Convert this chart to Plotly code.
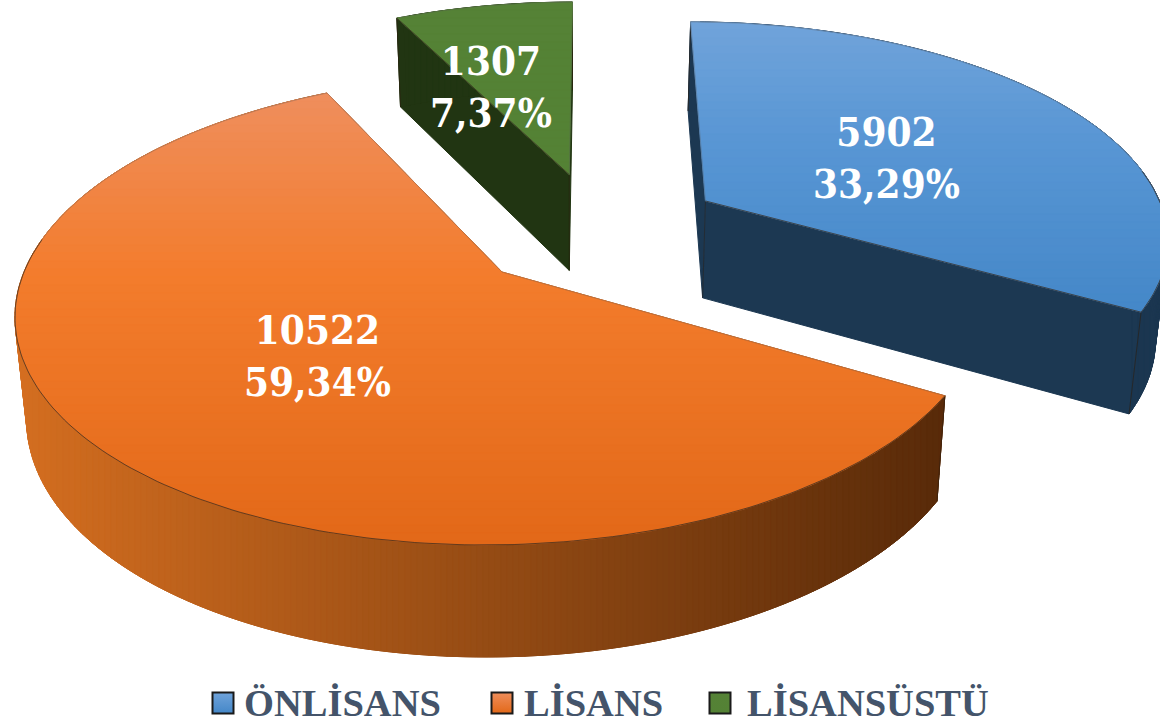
import math
import plotly.graph_objects as go

categories = ["ÖNLİSANS", "LİSANS", "LİSANSÜSTÜ"]
values = [5902, 10522, 1307]

# view of the tilted pie, in page pixels
W, H = 1160, 727
CX, CY = 502, 272
A, B, K = 478, 228.9, 0.1615
SHEAR = -0.065
EXPLODE = 0.275
TOP_COL = [[(112, 163, 218), (88, 150, 212), (68, 135, 200)],
           [(239, 142, 92), (243, 124, 44), (226, 104, 24)],
           [(85, 130, 54), (84, 130, 53), (84, 130, 53)]]
WALL_COL = [((29, 57, 84), (27, 54, 80)),
            ((212, 110, 32), (88, 42, 9)),
            ((33, 53, 18), (33, 53, 18))]
LABEL_POS = [(886, 157), (317, 355), (491, 86)]
LEG_BOX = [223, 502, 720]
LEG_TXT = [242, 522, 745]
LEG_Y = 703
DARK = "rgba(45,30,15,0.75)"
SOFT = "rgba(90,90,90,0.45)"


def project(u, v):
    w = 1 + K * v
    y = CY - B * v / w
    x = CX + A * u / w + SHEAR * (y - CY)
    return x, y


def drop(x, y):
    return x - (x - 570) * 0.021, y + 88 + 0.044 * y


def mix(c0, c1, f):
    f = max(0.0, min(1.0, f))
    return "rgb(%d,%d,%d)" % tuple(round(a + (b - a) * f) for a, b in zip(c0, c1))


def mix3(cs, f):
    return mix(cs[0], cs[1], f / 0.4) if f < 0.4 else mix(cs[1], cs[2], (f - 0.4) / 0.6)


def clip(poly, lo, hi, axis):
    def half(pts, keep, cross):
        out = []
        for i, p in enumerate(pts):
            q = pts[(i + 1) % len(pts)]
            if keep(p):
                out.append(p)
            if keep(p) != keep(q):
                out.append(cross(p, q))
        return out

    def at(level):
        def cross(p, q):
            f = (level - p[axis]) / (q[axis] - p[axis])
            r = [p[0] + (q[0] - p[0]) * f, p[1] + (q[1] - p[1]) * f]
            r[axis] = level
            return tuple(r)
        return cross

    res = half(poly, lambda p: p[axis] >= lo, at(lo))
    if res:
        res = half(res, lambda p: p[axis] <= hi, at(hi))
    return res


fig = go.Figure()


def fill(pts, color):
    fig.add_trace(go.Scatter(
        x=[p[0] for p in pts] + [pts[0][0]], y=[p[1] for p in pts] + [pts[0][1]],
        mode="lines", fill="toself", fillcolor=color,
        line=dict(color=color, width=1), hoverinfo="skip", showlegend=False))


def stroke(pts, width=0.8, color=DARK):
    fig.add_trace(go.Scatter(
        x=[p[0] for p in pts], y=[p[1] for p in pts], mode="lines",
        line=dict(color=color, width=width), hoverinfo="skip", showlegend=False))


total = sum(values)
ref = math.radians(values[0] / total * 360 + values[1] / total * 180)
start = 0.0
for i, val in enumerate(values):
    sweep = 360.0 * val / total
    mid = math.radians(start + sweep / 2)
    # offset of this slice's apex, measured from the orange apex at (0, 0)
    cu = -EXPLODE * math.sin(ref) + EXPLODE * math.sin(mid)
    cv = -EXPLODE * math.cos(ref) + EXPLODE * math.cos(mid)
    n = max(16, int(sweep))
    angs = [math.radians(start + sweep * j / n) for j in range(n + 1)]
    arc = [project(cu + math.sin(t), cv + math.cos(t)) for t in angs]
    apex = project(cu, cv)
    arc_b = [drop(*p) for p in arc]
    apex_b = drop(*apex)

    # walls
    lo, hi = WALL_COL[i]
    fill([apex, arc[0], arc_b[0], apex_b], mix(lo, hi, 0.5))
    fill([apex, arc[-1], arc_b[-1], apex_b], mix(lo, hi, 0.5))
    stroke([apex, apex_b], 0.6)
    for j in range(n):
        xm = (arc[j][0] + arc[j + 1][0]) / 2
        fill([arc[j], arc[j + 1], arc_b[j + 1], arc_b[j]], mix(lo, hi, (xm - 14) / 930))
    wall = arc + arc_b[::-1]
    xs = [p[0] for p in wall]
    x = min(xs) + 12
    while x < max(xs):
        piece = clip(wall, x, x + 6, 0)
        if len(piece) >= 3:
            fill(piece, mix(lo, hi, (x - 14) / 930))
        x += 6
    stroke([arc[-1], arc_b[-1]])
    stroke([arc[0], arc_b[0]])

    # top face, shaded in horizontal bands
    poly = [apex] + arc
    ys = [p[1] for p in poly]
    y_min, y_max = min(ys), max(ys)
    y = y_min
    while y < y_max:
        piece = clip(poly, y, y + 8, 1)
        if len(piece) >= 3:
            fill(piece, mix3(TOP_COL[i], (y - y_min) / (y_max - y_min)))
        y += 8

    # thin edges: soft against the page, dark where a wall lies below
    stroke(poly + [apex], 0.7, SOFT)
    stroke([p for p, t in zip(arc, angs) if math.cos(t) < 0.15], 0.8)
    if categories[i] == categories[0]:
        stroke([apex, arc[-1]], 0.8)
    if categories[i] == categories[2]:
        stroke([apex, arc[0]], 0.8)
    start += sweep

# legend
for cat, bx, tx, cs in zip(categories, LEG_BOX, LEG_TXT, TOP_COL):
    fig.add_trace(go.Scatter(
        x=[bx], y=[LEG_Y], mode="markers", hoverinfo="skip", showlegend=False,
        marker=dict(symbol="square", size=21, color=mix3(cs, 0),
                    gradient=dict(type="vertical", color=mix3(cs, 1)),
                    line=dict(color="#1a1a1a", width=2))))
    fig.add_annotation(x=tx, y=LEG_Y, xref="x", yref="y", text=f"<b>{cat}</b>", showarrow=False,
                       xanchor="left", yanchor="middle", align="left",
                       font=dict(family="Liberation Serif", size=38.5, color="#44546A"))

# data labels
for val, (lx, ly) in zip(values, LABEL_POS):
    pct = f"{val / total * 100:.2f}".replace(".", ",")
    fig.add_annotation(x=lx, y=ly, xref="x", yref="y", text=f"<b>{val}<br>{pct}%</b>", showarrow=False,
                       xanchor="center", yanchor="middle", align="center",
                       font=dict(family="DejaVu Serif Condensed, DejaVu Serif", size=40, color="white"))

fig.update_layout(
    width=W, height=H, autosize=False, margin=dict(l=0, r=0, t=0, b=0),
    paper_bgcolor="white", plot_bgcolor="white", showlegend=False,
    xaxis=dict(range=[0, W], visible=False, fixedrange=True),
    yaxis=dict(range=[H, 0], visible=False, fixedrange=True),
)
fig.write_html("out.html", config={"displayModeBar": False},
               post_script="document.body.style.margin='0';document.body.style.overflow='hidden';")
